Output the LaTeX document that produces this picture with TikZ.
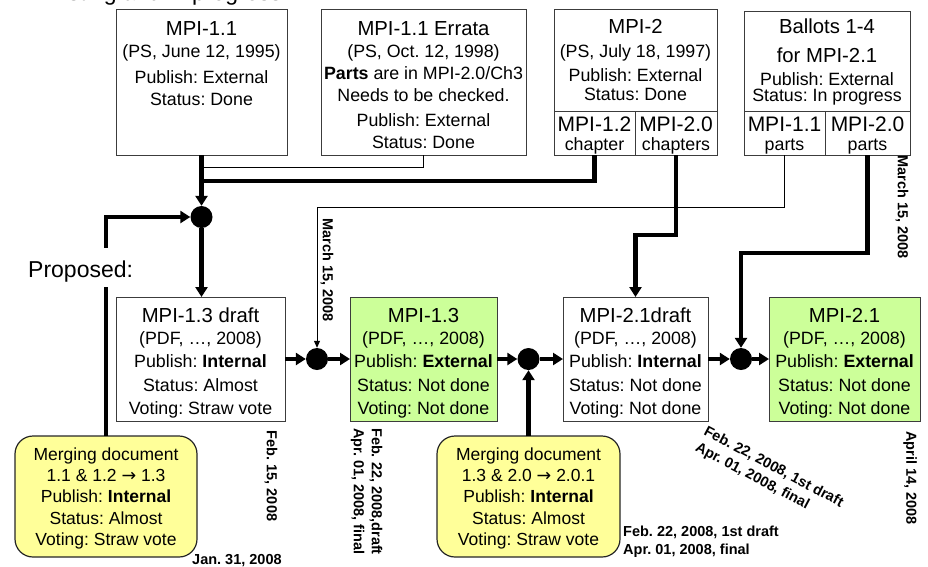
\documentclass[tikz,border=0pt]{standalone}
\usepackage{fontspec}
\setmainfont{Liberation Sans}
\newfontfamily\dvs{DejaVu Sans}
\usetikzlibrary{arrows.meta,calc}
\definecolor{grn}{RGB}{204,255,153}
\definecolor{ylw}{RGB}{255,255,153}
\definecolor{edge}{RGB}{60,60,60}
\newcommand\FT{\fontsize{20.3}{22}\selectfont}
\newcommand\FB{\fontsize{17.8}{22}\selectfont}
\newcommand\FD{\fontsize{14.5}{18}\selectfont\bfseries}
\newcommand\FP{\fontsize{23}{26}\selectfont}
\newcommand\TR{\rule{0pt}{16pt}}
\newcommand\DR{\rule{0pt}{12pt}}
\begin{document}
\frenchspacing
\begin{tikzpicture}[x=1pt,y=-1pt,
  box/.style={draw=edge, line width=0.9pt, inner sep=0pt, outer sep=0pt, anchor=north west},
  ybox/.style={draw=black!85, fill=ylw, line width=1.2pt, rounded corners=18pt, inner sep=0pt, outer sep=0pt, anchor=north west},
  txt/.style={inner sep=0pt, align=center, anchor=north, font=\FB},
  dot/.style={circle, fill=black, inner sep=0pt, minimum size=22pt},
  thk/.style={line width=4.2pt, -{Triangle[width=12pt,length=10pt]}},
  thkl/.style={line width=4.2pt},
  thn/.style={line width=1pt, -{Triangle[width=6pt,length=7pt]}},
  thnl/.style={line width=1pt},
  date/.style={font=\FD, inner sep=0pt},
]
\useasboundingbox (0,0) rectangle (928,566);

\node[font=\FP, inner sep=0pt, anchor=base west] (top) at (36,0) {Existing and in progress:};

% ---- top boxes
\node[box, minimum width=171pt, minimum height=146pt] (m11) at (116,9) {};
\node[txt] (m11t) at (201.5,19) {{\FT\TR MPI-1.1}\\(PS, June 12, 1995)\\[4pt]Publish: External\\Status: Done};

\node[box, minimum width=205pt, minimum height=146pt] (err) at (321,9) {};
\node[txt] (errt) at (423.5,19) {{\FT\TR MPI-1.1 Errata}\\(PS, Oct. 12, 1998)\\\textbf{Parts} are in MPI-2.0/Ch3\\Needs to be checked.\\[3pt]Publish: External\\Status: Done};

\node[box, minimum width=163pt, minimum height=146pt] (m2) at (554,9) {};
\node[txt] (m2t) at (635.5,17) {{\FT\TR MPI-2}\\[2pt](PS, July 18, 1997)\\[2pt]Publish: External\\[-3pt]Status: Done};
\node[box, minimum width=81pt, minimum height=44pt] (m2a) at (554,111) {};
\node[box, minimum width=82pt, minimum height=44pt] (m2b) at (635,111) {};
\node[txt] (m2at) at (594.5,115) {{\fontsize{21}{22}\selectfont\TR MPI-1.2}\\[-3pt]chapter};
\node[txt] (m2bt) at (676,115) {{\fontsize{21}{22}\selectfont\TR MPI-2.0}\\[-3pt]chapters};

\node[box, minimum width=166pt, minimum height=143.5pt] (bal) at (744,11.5) {};
\node[txt] (balt) at (827,17) {{\FT\TR Ballots 1-4}\\[7pt]{\FT for MPI-2.1}\\[1pt]Publish: External\\[-6pt]Status: In progress};
\node[box, minimum width=81pt, minimum height=44pt] (b1) at (744,111) {};
\node[box, minimum width=85pt, minimum height=44pt] (b2) at (825,111) {};
\node[txt] (b1t) at (784.5,115) {{\fontsize{21}{22}\selectfont\TR MPI-1.1}\\[-3pt]parts};
\node[txt] (b2t) at (867.5,115) {{\fontsize{21}{22}\selectfont\TR MPI-2.0}\\[-3pt]parts};

% ---- second row
\node[box, minimum width=169pt, minimum height=124pt] (d13) at (116,297) {};
\node[txt, font=\fontsize{17.8}{22.5}\selectfont] (d13t) at (200.5,306) {{\FT\TR MPI-1.3 draft}\\(PDF, …, 2008)\\Publish: \textbf{Internal}\\[2pt]Status: Almost\\Voting: Straw vote};

\node[box, fill=grn, minimum width=147pt, minimum height=124pt] (g13) at (350,297) {};
\node[txt, font=\fontsize{17.8}{22.5}\selectfont] (g13t) at (423.5,306) {{\FT\TR MPI-1.3}\\(PDF, …, 2008)\\Publish: \textbf{External}\\[2pt]Status: Not done\\Voting: Not done};

\node[box, minimum width=145pt, minimum height=124pt] (d21) at (563,297) {};
\node[txt, font=\fontsize{17.8}{22.5}\selectfont] (d21t) at (635.5,306) {{\FT\TR MPI-2.1draft}\\(PDF, …, 2008)\\Publish: \textbf{Internal}\\[2pt]Status: Not done\\Voting: Not done};

\node[box, fill=grn, minimum width=151pt, minimum height=124pt] (f21) at (769,297) {};
\node[txt, font=\fontsize{17.8}{22.5}\selectfont] (f21t) at (844.5,306) {{\FT\TR MPI-2.1}\\(PDF, …, 2008)\\Publish: \textbf{External}\\[2pt]Status: Not done\\Voting: Not done};

% ---- merging documents
\node[ybox, minimum width=182pt, minimum height=121pt] (y1) at (15,436) {};
\node[txt, font=\fontsize{17.5}{21.3}\selectfont] (y1t) at (106,446) {\rule{0pt}{14pt}Merging document\\1.1 \& 1.2 {\dvs →} 1.3\\Publish: \textbf{Internal}\\Status: Almost\\Voting: Straw vote};
\node[ybox, minimum width=183pt, minimum height=121pt] (y2) at (437,436) {};
\node[txt, font=\fontsize{17.5}{21.3}\selectfont] (y2t) at (528.5,446) {\rule{0pt}{14pt}Merging document\\1.3 \& 2.0 {\dvs →} 2.0.1\\Publish: \textbf{Internal}\\Status: Almost\\Voting: Straw vote};

% ---- junctions
\node[dot] (j1) at (201.5,217) {};
\node[dot] (j2) at (317,359) {};
\node[dot] (j3) at (528.5,359) {};
\node[dot] (j4) at (741,359) {};

\coordinate (c0) at (201.5,167);
\coordinate (c1) at (201.5,181);
\coordinate (c2) at (317,207);

% ---- connectors
\draw[thnl] (err.south) |- (c0);
\draw[thkl] (m2a.south) |- (c1);
\draw[thk] (m11.south) -- (j1);
\draw[thk] (y1.north) |- (j1);
\draw[thk] (j1) -- (j1 |- d13.north);
\draw[thn] (b1.south) |- (c2) -- (j2);
\draw[thk] (m2b.south) -- ++(0,80) -| (d21.north);
\draw[thk] (b2.south) -- ++(0,98) -| (j4);
\draw[thk] (d13.east) -- (j2);
\draw[thk] (j2) -- (g13.west);
\draw[thk] (g13.east) -- (j3);
\draw[thk] (j3) -- (d21.west);
\draw[thk] (d21.east) -- (j4);
\draw[thk] (j4) -- (f21.west);
\draw[thk] (y2.north) -- (j3);

\node[font=\FP, fill=white, inner sep=0pt, text height=29pt, text depth=10pt, anchor=base west] (prop) at (28,277) {Proposed:};

% ---- dates
\node[date, rotate=-90] (dfeb15) at (271,476) {Feb. 15, 2008};
\node[date, anchor=base west] (djan31) at (192,564.5) {Jan. 31, 2008};
\node[date, rotate=-90] (dmar1) at (327,270) {March 15, 2008};
\node[date, rotate=-90] (dmar2) at (902,207) {March 15, 2008};
\node[date, rotate=-90, align=left, anchor=north west] (dfeb22v) at (384,428) {\DR Feb. 22, 2008,draft\\Apr. 01, 2008, final};
\node[date, align=left, anchor=north west] (dfeb22h) at (623,524) {\DR Feb. 22, 2008, 1st draft\\Apr. 01, 2008, final};
\node[date, rotate=-28, align=left, anchor=north west] (dfeb22d) at (708.6,423.4) {\DR Feb. 22, 2008, 1st draft\\Apr. 01, 2008, final};
\node[date, rotate=-90] (dapr) at (910,478) {April 14, 2008};
\end{tikzpicture}
\end{document}
